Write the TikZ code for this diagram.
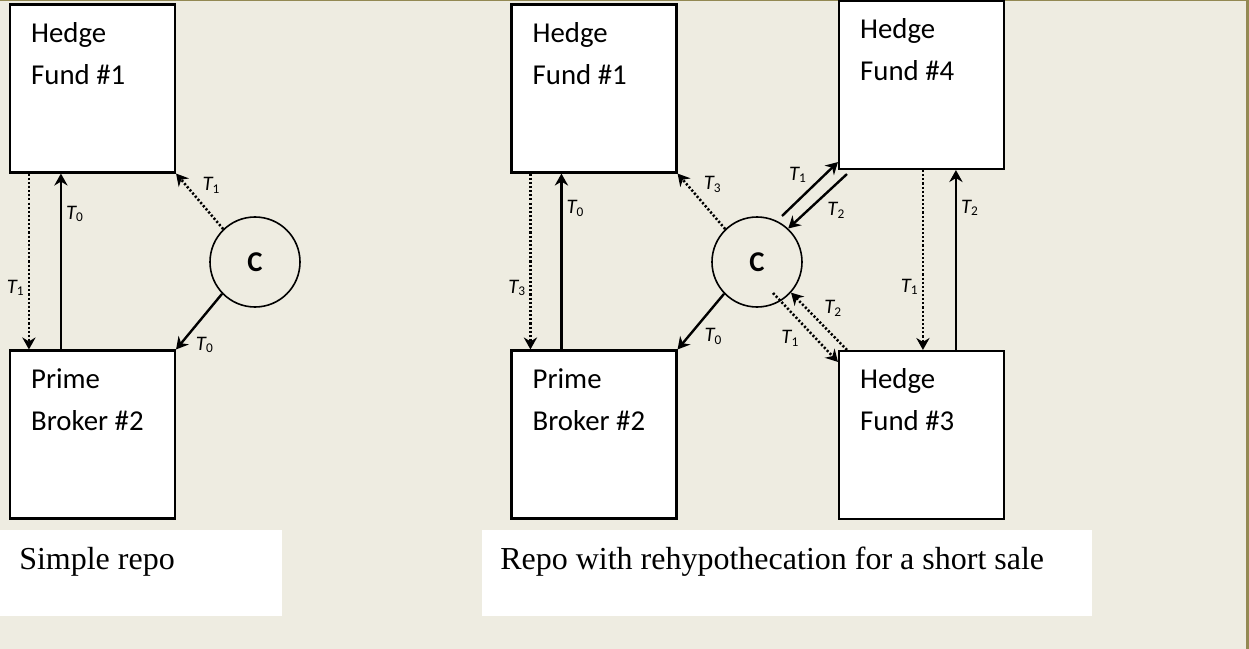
\documentclass[tikz,border=0pt]{standalone}
\usepackage{fontspec}
\setmainfont{Liberation Serif}
\newfontfamily\calibri{Carlito}
\usetikzlibrary{arrows.meta}
\definecolor{paper}{HTML}{EEECE1}
\definecolor{olivebar}{HTML}{938953}
\newcommand\boxfont{\calibri\fontsize{21.6pt}{31.5pt}\selectfont}
\newcommand\tsub[1]{{\itshape T}\raisebox{-2pt}{\fontsize{10pt}{10pt}\selectfont #1}}
\begin{document}
\begin{tikzpicture}[x=0.75pt, y=-0.75pt,
  >={Stealth[length=9pt, width=10pt, inset=3pt]},
  fund/.style={draw, line width=1.6pt, fill=white, minimum width=123.75pt, minimum height=126pt, inner sep=0pt},
  fundtext/.style={anchor=north west, inner sep=0pt, align=left, font=\boxfont, xshift=16.5pt, yshift=-14pt},
  hub/.style={circle, draw, line width=1.2pt, fill=paper, minimum size=67.5pt, inner sep=0pt, font=\calibri\bfseries\fontsize{21.5pt}{21.5pt}\selectfont},
  solidline/.style={line width=1.8pt},
  dotline/.style={line width=1.9pt, dash pattern=on 1.6pt off 1.5pt},
  tlab/.style={inner sep=3pt, font=\calibri\fontsize{15.5pt}{16pt}\selectfont},
  caption/.style={anchor=base west, inner sep=0pt, font=\fontsize{24pt}{28pt}\selectfont}]
  \useasboundingbox (0,0) rectangle (1249,649);
  \fill[paper] (0,0) rectangle (1249,649);
  \draw[olivebar, line width=2.25pt] (-10,0) -- (1247.5,0) -- (1247.5,660);
  \fill[white] (0,530) rectangle (282,616);
  \fill[white] (482,530) rectangle (1092,616);
  \node[caption] (cap1) at (19,569) {Simple repo};
  \node[caption] (cap2) at (500,569) {Repo with rehypothecation for a short sale};
  % simple repo
  \node[fund, label={[fundtext]north west:{Hedge\\Fund \#1}}] (hf1) at (92.5,88.5) {};
  \node[fund, label={[fundtext]north west:{Prime\\Broker \#2}}] (pb2) at (92.5,434.5) {};
  \node[hub] (lc) at (255,262) {C};
  \draw[dotline, ->] ([xshift=15pt]hf1.south west) -- node[pos=0.65, left, tlab] {\tsub{1}} ([xshift=15pt]pb2.north west);
  \draw[solidline, ->] ([xshift=39pt]pb2.north west) -- node[pos=0.77, right, tlab] {\tsub{0}} ([xshift=39pt]hf1.south west);
  \draw[dotline, ->] (lc.134) -- node[pos=0.55, above right, tlab] {\tsub{1}} (hf1.south east);
  \draw[solidline, ->] (lc.224) -- node[pos=0.68, below right, tlab] {\tsub{0}} (pb2.north east);
  % repo with rehypothecation
  \node[fund, label={[fundtext]north west:{Hedge\\Fund \#1}}] (rhf1) at (594,88.5) {};
  \node[fund, label={[fundtext]north west:{Prime\\Broker \#2}}] (rpb2) at (594,434.5) {};
  \node[fund, label={[fundtext]north west:{Hedge\\Fund \#4}}] (hf4) at (921.5,85) {};
  \node[fund, label={[fundtext]north west:{Hedge\\Fund \#3}}] (hf3) at (921.5,435) {};
  \node[hub] (rc) at (757,262) {C};
  \coordinate (t1a) at (782,216);
  \coordinate (t1b) at (773,293);
  \draw[dotline, ->] ([xshift=15pt]rhf1.south west) -- node[pos=0.65, left, tlab] {\tsub{3}} ([xshift=15pt]rpb2.north west);
  \draw[solidline, ->] ([xshift=38.25pt]rpb2.north west) -- node[pos=0.8, right, tlab] {\tsub{0}} ([xshift=38.25pt]rhf1.south west);
  \draw[dotline, ->] (rc.134) -- node[pos=0.56, above right, tlab] {\tsub{3}} (rhf1.south east);
  \draw[solidline, ->] (rc.224) -- node[pos=0.53, below right, tlab] {\tsub{0}} (rpb2.north east);
  \draw[solidline, ->] (t1a) -- node[pos=0.52, above left, tlab] {\tsub{1}} ([yshift=6pt]hf4.south west);
  \draw[solidline, ->] ([xshift=6.75pt, yshift=-3pt]hf4.south west) -- node[pos=0.42, below right, tlab] {\tsub{2}} (rc.47);
  \draw[dotline, ->] (t1b) -- node[pos=0.47, below left, tlab] {\tsub{1}} ([yshift=-9pt]hf3.north west);
  \draw[dotline, ->] ([xshift=6.75pt]hf3.north west) -- node[pos=0.5, above right, tlab] {\tsub{2}} (rc.-42);
  \draw[dotline, ->] ([xshift=63.75pt]hf4.south west) -- node[pos=0.65, left, tlab] {\tsub{1}} ([xshift=63.75pt]hf3.north west);
  \draw[solidline, ->] ([xshift=88.5pt]hf3.north west) -- node[pos=0.79, right, tlab] {\tsub{2}} ([xshift=88.5pt]hf4.south west);
\end{tikzpicture}
\end{document}
